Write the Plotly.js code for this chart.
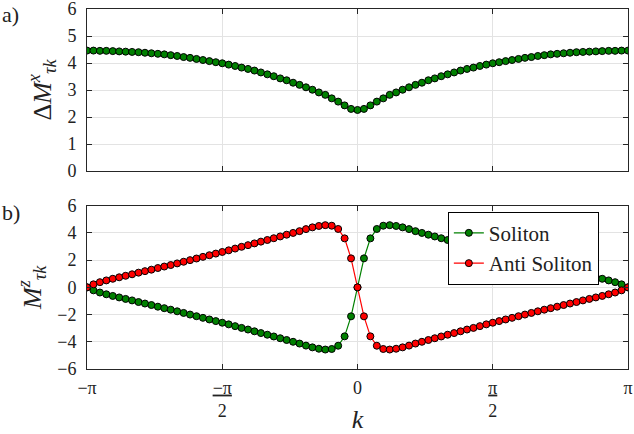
<!DOCTYPE html>
<html><head><meta charset="utf-8">
<script src="https://cdn.plot.ly/plotly-3.0.1.min.js"></script>
<style>html,body{margin:0;padding:0;background:#fff}#chart{width:634px;height:434px}</style>
</head><body><div id="chart"></div>
<script>
// sampling grid index n (k = n*pi/42)
const kIndex = [-42,-41,-40,-39,-38,-37,-36,-35,-34,-33,-32,-31,-30,-29,-28,-27,-26,-25,-24,-23,-22,-21,-20,-19,-18,-17,-16,-15,-14,-13,-12,-11,-10,-9,-8,-7,-6,-5,-4,-3,-2,-1,0,1,2,3,4,5,6,7,8,9,10,11,12,13,14,15,16,17,18,19,20,21,22,23,24,25,26,27,28,29,30,31,32,33,34,35,36,37,38,39,40,41,42];

const deltaMx = [4.46,4.46,4.45,4.45,4.44,4.43,4.42,4.41,4.40,4.38,4.36,4.34,4.32,4.29,4.26,4.22,4.19,4.15,4.11,4.07,4.03,3.99,3.94,3.89,3.83,3.78,3.72,3.65,3.58,3.51,3.43,3.36,3.27,3.19,3.10,3.01,2.91,2.82,2.69,2.57,2.43,2.30,2.26,2.30,2.43,2.57,2.69,2.82,2.91,3.01,3.10,3.19,3.27,3.36,3.43,3.51,3.58,3.65,3.72,3.78,3.83,3.89,3.94,3.99,4.03,4.07,4.11,4.15,4.19,4.22,4.26,4.29,4.32,4.34,4.36,4.38,4.40,4.41,4.42,4.43,4.44,4.45,4.45,4.46,4.46];

const solitonMz = [0,-0.22,-0.38,-0.51,-0.63,-0.74,-0.85,-0.96,-1.08,-1.19,-1.30,-1.42,-1.53,-1.64,-1.76,-1.88,-2.00,-2.12,-2.24,-2.36,-2.48,-2.60,-2.72,-2.85,-2.98,-3.10,-3.23,-3.36,-3.48,-3.61,-3.74,-3.87,-4.00,-4.13,-4.28,-4.41,-4.51,-4.57,-4.53,-4.29,-3.60,-2.13,0,2.13,3.60,4.29,4.53,4.57,4.51,4.41,4.28,4.13,4.00,3.87,3.74,3.61,3.48,3.36,3.23,3.10,2.98,2.85,2.72,2.60,2.48,2.36,2.24,2.12,2.00,1.88,1.76,1.64,1.53,1.42,1.30,1.19,1.08,0.96,0.85,0.74,0.63,0.51,0.38,0.22,0];

const antiSolitonMz = [0,0.22,0.38,0.51,0.63,0.74,0.85,0.96,1.08,1.19,1.30,1.42,1.53,1.64,1.76,1.88,2.00,2.12,2.24,2.36,2.48,2.60,2.72,2.85,2.98,3.10,3.23,3.36,3.48,3.61,3.74,3.87,4.00,4.13,4.28,4.41,4.51,4.57,4.53,4.29,3.60,2.13,0,-2.13,-3.60,-4.29,-4.53,-4.57,-4.51,-4.41,-4.28,-4.13,-4.00,-3.87,-3.74,-3.61,-3.48,-3.36,-3.23,-3.10,-2.98,-2.85,-2.72,-2.60,-2.48,-2.36,-2.24,-2.12,-2.00,-1.88,-1.76,-1.64,-1.53,-1.42,-1.30,-1.19,-1.08,-0.96,-0.85,-0.74,-0.63,-0.51,-0.38,-0.22,0];

const xTickVals = [-Math.PI, -Math.PI/2, 0, Math.PI/2, Math.PI];
const xTickText = ['−π', '<u>−π</u><br>2', '0', '<u>π</u><br>2', 'π'];
const yTopTicks = [0, 1, 2, 3, 4, 5, 6];
const yBottomTicks = [-6, -4, -2, 0, 2, 4, 6];
const seriesNames = ['Soliton', 'Anti Soliton'];
const panelLabels = ['a)', 'b)'];

const k = kIndex.map(n => n * Math.PI / 42);

const FONT = 'Liberation Serif, Times New Roman, serif';
const GREEN = 'rgb(0,128,0)';
const RED = 'rgb(255,0,0)';
const AX = '#262626';

const traces = [
  {x: k, y: deltaMx, xaxis: 'x2', yaxis: 'y2', mode: 'lines+markers', showlegend: false,
   line: {color: GREEN, width: 1}, marker: {color: GREEN, size: 7, line: {color: '#000', width: 1}}},
  {x: k, y: solitonMz, xaxis: 'x', yaxis: 'y', mode: 'lines+markers', name: seriesNames[0],
   line: {color: GREEN, width: 1.2}, marker: {color: GREEN, size: 7, line: {color: '#000', width: 1}}},
  {x: k, y: antiSolitonMz, xaxis: 'x', yaxis: 'y', mode: 'lines+markers', name: seriesNames[1],
   line: {color: RED, width: 1.2}, marker: {color: RED, size: 7, line: {color: '#000', width: 1}}}
];

const axCommon = {
  showline: true, linecolor: AX, linewidth: 1, mirror: 'allticks',
  ticks: 'inside', ticklen: 5, tickcolor: AX, tickwidth: 1,
  showgrid: true, gridcolor: '#e3e3e3', gridwidth: 1, zeroline: false,
  ticklabeloverflow: 'allow',
  tickfont: {family: FONT, size: 18, color: '#222'}
};

const layout = {
  width: 634, height: 434,
  margin: {l: 87, r: 6, t: 9, b: 65},
  paper_bgcolor: '#fff', plot_bgcolor: '#fff',
  font: {family: FONT, color: '#222'},
  xaxis: Object.assign({}, axCommon, {
    domain: [0, 1], anchor: 'y', range: [-Math.PI, Math.PI],
    tickmode: 'array', tickvals: xTickVals, ticktext: xTickText, ticklabelstandoff: 2,
    title: {text: '<i>k</i>', font: {family: FONT, size: 26, color: '#222'}, standoff: 2}
  }),
  yaxis: Object.assign({}, axCommon, {
    domain: [0, 0.4536], anchor: 'x', range: [-6, 6], tickmode: 'array', tickvals: yBottomTicks,
    ticklabelstandoff: 6,
    title: {text: '<i>M</i><sup><i>z</i></sup><sub><i>τk</i></sub>', font: {family: FONT, size: 26, color: '#222'}, standoff: 8}
  }),
  xaxis2: Object.assign({}, axCommon, {
    domain: [0, 1], anchor: 'y2', range: [-Math.PI, Math.PI], matches: 'x',
    tickmode: 'array', tickvals: xTickVals, showticklabels: false
  }),
  yaxis2: Object.assign({}, axCommon, {
    domain: [0.55, 1], anchor: 'x2', range: [0, 6], tickmode: 'array', tickvals: yTopTicks,
    ticklabelstandoff: 6,
    title: {text: 'Δ<i>M</i><sup><i>x</i></sup><sub><i>τk</i></sub>', font: {family: FONT, size: 26, color: '#222'}, standoff: 8}
  }),
  legend: {x: 0.667, y: 0.437, xanchor: 'left', yanchor: 'top', bgcolor: '#fff',
    bordercolor: '#000', borderwidth: 1, font: {family: FONT, size: 21, color: '#222'}},
  annotations: [
    {text: panelLabels[0], xref: 'paper', yref: 'paper', x: -0.16, y: 0.985, xanchor: 'left', yanchor: 'middle',
     showarrow: false, font: {family: FONT, size: 22, color: '#222'}},
    {text: panelLabels[1], xref: 'paper', yref: 'paper', x: -0.16, y: 0.436, xanchor: 'left', yanchor: 'middle',
     showarrow: false, font: {family: FONT, size: 22, color: '#222'}}
  ]
};

Plotly.newPlot('chart', traces, layout, {staticPlot: true, displayModeBar: false});
</script></body></html>
